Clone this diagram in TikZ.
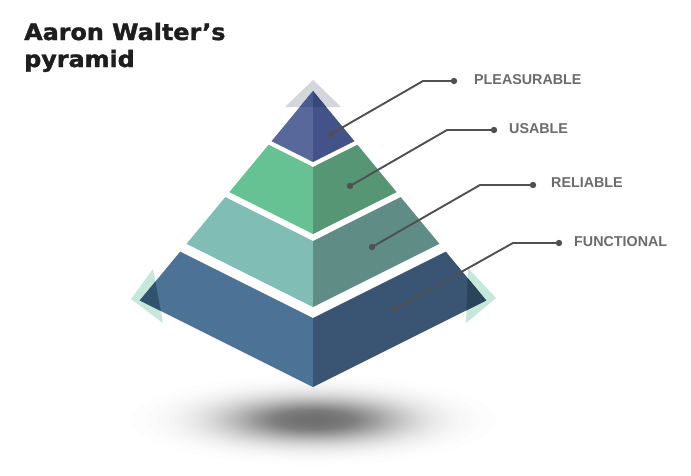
\documentclass[tikz,border=0pt]{standalone}
\usepackage{fontspec}
\setmainfont{Liberation Sans}
\newfontfamily\titlefont{DejaVu Sans}[BoldFeatures={FakeBold=1.6}]

% face colours, light (left) and shaded (right) side of each tier
\definecolor{topL}{HTML}{58689B}
\definecolor{topR}{HTML}{435389}
\definecolor{topLdk}{HTML}{4A5A8C}
\definecolor{topRdk}{HTML}{38477A}
\definecolor{useL}{HTML}{66C292}
\definecolor{useR}{HTML}{569674}
\definecolor{relL}{HTML}{80BDB5}
\definecolor{relR}{HTML}{5F8D86}
\definecolor{funL}{HTML}{4C7296}
\definecolor{funR}{HTML}{3A5573}
\definecolor{funLdk}{HTML}{31536D}
\definecolor{funRdk}{HTML}{2B4459}
\definecolor{ghost}{HTML}{D3D6DA}
\definecolor{mint}{HTML}{C5E8DA}
\definecolor{leader}{HTML}{505050}
\definecolor{labeltext}{HTML}{6B6B6B}
\definecolor{titleink}{HTML}{1E1E1E}

\begin{document}
\begin{tikzpicture}[x=1pt,y=-1pt,
  leaderline/.style={draw=leader,line width=1.9pt},
  leaderdot/.style={fill=leader},
  tierlabel/.style={anchor=west,inner sep=0pt,text=labeltext,
    font=\bfseries\fontsize{14.3}{16}\selectfont},
  titletext/.style={anchor=base west,inner sep=0pt,text=titleink,
    font=\titlefont\bfseries\fontsize{22.5}{26}\selectfont}]
\useasboundingbox (0,0) rectangle (691,475);
\fill[white] (0,0) rectangle (691,475);

% soft floor shadow: many faint stacked ellipses with a bell-shaped falloff
\foreach \k in {1,...,79}{
  \pgfmathsetmacro{\f}{sqrt(ln(80/\k)/ln(80))}
  \fill[black,opacity=0.0072] (314,420) ellipse[x radius={182pt*\f}, y radius={45pt*\f}];
}

% backdrop triangles
\fill[ghost] (313,80) -- (285,107) -- (341,107) -- cycle;
\fill[mint] (153,269) -- (131,299) -- (163,323) -- cycle;
\fill[mint] (468,268) -- (496,298) -- (466,323) -- cycle;

% top tier
\fill[topL] (313,91) -- (271.5,141.2) -- (313,162) -- cycle;
\fill[topR] (313,91) -- (313,162) -- (354.5,141.2) -- cycle;
\begin{scope}
  \clip (313,91) -- (271.5,141.2) -- (313,162) -- cycle;
  \fill[topLdk] (313,80) -- (285,107) -- (341,107) -- cycle;
\end{scope}
\begin{scope}
  \clip (313,91) -- (313,162) -- (354.5,141.2) -- cycle;
  \fill[topRdk] (313,80) -- (285,107) -- (341,107) -- cycle;
\end{scope}

% second tier
\fill[useL] (268.6,144.7) -- (229.4,192.1) -- (313,234) -- (313,167) -- cycle;
\fill[useR] (313,167) -- (313,234) -- (396.6,192.1) -- (357.4,144.7) -- cycle;

% third tier
\fill[relL] (225.3,197.1) -- (186.6,243.8) -- (313,307) -- (313,241) -- cycle;
\fill[relR] (313,241) -- (313,307) -- (439.4,243.8) -- (400.7,197.1) -- cycle;

% base tier
\fill[funL] (180.2,251.6) -- (139.8,300.4) -- (313,387) -- (313,318) -- cycle;
\fill[funR] (313,318) -- (313,387) -- (486.2,300.4) -- (445.8,251.6) -- cycle;
\begin{scope}
  \clip (180.2,251.6) -- (139.8,300.4) -- (313,387) -- (313,318) -- cycle;
  \fill[funLdk] (153,269) -- (131,299) -- (163,323) -- cycle;
\end{scope}
\begin{scope}
  \clip (313,318) -- (313,387) -- (486.2,300.4) -- (445.8,251.6) -- cycle;
  \fill[funRdk] (468,268) -- (496,298) -- (466,323) -- cycle;
\end{scope}

% leader anchors
\coordinate (p1) at (331,134);  \coordinate (e1) at (423,81);  \coordinate (d1) at (454,81);
\coordinate (p2) at (350,186);  \coordinate (e2) at (447,130); \coordinate (d2) at (494,130);
\coordinate (p3) at (372,247);  \coordinate (e3) at (480,185); \coordinate (d3) at (533,185);
\coordinate (p4) at (395,309);  \coordinate (e4) at (513,243); \coordinate (d4) at (559,243);

\draw[leaderline] (p1) -- (e1) -- (d1);
\draw[leaderline] (p2) -- (e2) -- (d2);
\draw[leaderline] (p3) -- (e3) -- (d3);
\draw[leaderline] (p4) -- (e4) -- (d4);
\foreach \c in {p1,d1,p2,d2,p3,d3,p4,d4}{
  \fill[leaderdot] (\c) circle[radius=3.2pt];
}

% tier names
\node[tierlabel] (pleasurable) at (474,80) {PLEASURABLE};
\node[tierlabel] (usable) at (509,129) {USABLE};
\node[tierlabel] (reliable) at (551,183) {RELIABLE};
\node[tierlabel] (functional) at (574,242) {FUNCTIONAL};

% heading
\node[titletext] (title1) at (24,40) {\scalebox{1.06}[1]{Aaron Walter’s}};
\node[titletext] (title2) at (24,67) {\scalebox{1.06}[1]{pyramid}};
\end{tikzpicture}
\end{document}
